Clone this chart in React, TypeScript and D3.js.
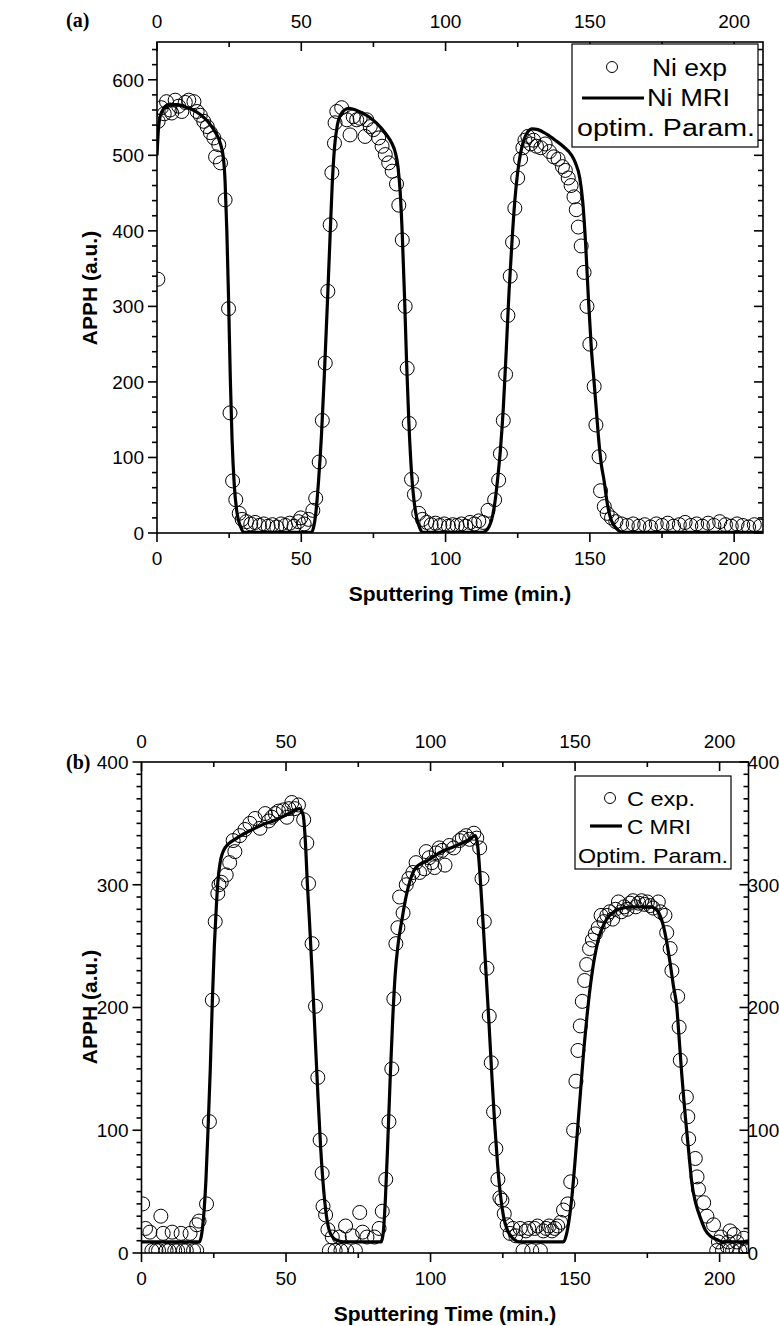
import React from "react";
import * as d3 from "d3";

// ---------- data ----------
const xMajorTicks = [0, 50, 100, 150, 200];
const xMinorTicks = [25, 75, 125, 175];
const niYMajor = [0, 100, 200, 300, 400, 500, 600];
const cYMajor = [0, 100, 200, 300, 400];

const niExp: [number, number][] = [
  [0.3, 336], [0.4, 545], [1.5, 563], [2.5, 555], [3.3, 571], [4.5, 560], [5.1, 556], [6.3, 573],
  [7.5, 565], [8.6, 558], [9.8, 570], [11, 573], [12.8, 571], [13.9, 558], [15, 553], [16.2, 545],
  [17.4, 538], [18.5, 530], [19.7, 523], [20.3, 498], [21.4, 514], [22, 490], [23.6, 441], [24.8, 297],
  [25.3, 159], [26.2, 69], [27.3, 44], [28.5, 26], [29.5, 18], [31, 15], [32.5, 12], [34, 14],
  [35.5, 10], [37, 12], [38.5, 9], [40, 11], [41.5, 8], [43, 12], [44.5, 10], [46, 13], [47.5, 9],
  [49, 15], [49.8, 20], [51, 12], [52.5, 18], [54, 30], [55, 46], [56.2, 94], [57.3, 149], [58.3, 225],
  [59.2, 320], [60, 408], [60.6, 477], [61.5, 516], [61.7, 543], [62.3, 558], [64, 563], [65.8, 547],
  [66.9, 527], [68, 551], [69.2, 547], [70.4, 549], [72.1, 525], [72.7, 547], [73.9, 538], [75, 534],
  [76.8, 523], [78, 512], [79.1, 501], [80.3, 490], [81.5, 479], [83, 462], [83.8, 434], [85, 388],
  [86, 300], [86.7, 218], [87.4, 145], [88.2, 71], [89.2, 51], [90.7, 26], [92, 18], [93.5, 14],
  [95, 11], [96.5, 13], [98, 10], [99.5, 12], [101, 9], [102.5, 11], [104, 10], [105.5, 12], [107, 9],
  [108.5, 14], [110, 12], [111.5, 16], [113, 14], [114.7, 30], [117, 44], [118.4, 70], [119, 105],
  [120, 149], [120.8, 210], [121.6, 288], [122.4, 340], [123.2, 385], [124, 430], [125, 470],
  [126, 495], [126.8, 510], [127.5, 520], [128.5, 525], [129.5, 515], [130.5, 520], [131.5, 512],
  [133, 510], [134.5, 515], [136, 505], [137.5, 498], [139, 495], [140.5, 485], [141.5, 480],
  [142.5, 470], [143.5, 460], [144.5, 445], [145.3, 428], [146, 405], [147, 380], [148, 345],
  [149, 300], [150, 250], [151.5, 194], [152.1, 143], [153.2, 101], [153.7, 56], [155, 35], [156, 26],
  [157.5, 20], [159, 15], [161, 12], [163, 10], [165, 12], [167, 9], [169, 11], [171, 8], [173, 12],
  [175, 10], [177, 13], [179, 9], [181, 11], [183, 14], [185, 10], [187, 12], [189, 9], [191, 13],
  [193, 10], [195, 15], [197, 11], [199, 9], [201, 12], [203, 10], [205, 8], [207, 11], [209, 9],
];

const niMri: [number, number][] = [
  [0, 500], [0.5, 535], [1, 550], [2, 560], [3, 565], [5, 567], [7, 567], [9, 565], [12, 561],
  [15, 554], [18, 543], [20, 532], [22, 515], [23, 497], [23.6, 465], [24.2, 400], [24.8, 310],
  [25.4, 205], [26, 125], [26.8, 62], [27.8, 25], [29, 8], [30, 1], [53.5, 1], [54.3, 8], [55, 25],
  [56, 70], [57, 130], [58, 210], [59, 300], [60, 395], [60.7, 460], [61.5, 510], [62.5, 540],
  [63.5, 553], [65, 560], [66.5, 562], [70, 558], [73, 552], [76, 543], [79, 530], [81.5, 515],
  [82.5, 505], [83.5, 485], [84.3, 450], [85, 395], [85.8, 310], [86.5, 225], [87.3, 145],
  [88.2, 80], [89, 45], [90, 20], [91, 7], [92, 1], [113, 1], [114, 3], [115, 8], [116, 18],
  [117, 38], [118, 70], [119, 110], [120, 165], [121, 240], [122, 320], [123, 385], [124, 440],
  [125, 478], [126, 503], [127, 519], [128.5, 531], [130, 535], [132, 534], [135, 528],
  [138, 520], [141, 511], [143.5, 501], [145, 490], [146.5, 470], [147.5, 440], [148.5, 385],
  [149.5, 310], [150.5, 245], [151.4, 203], [152.3, 160], [153.2, 118], [154, 90], [154.9, 70],
  [156, 40], [157, 22], [158, 12], [159.5, 5], [161, 1], [210, 1],
];

const cExp: [number, number][] = [
  [0.4, 40], [1.4, 20], [2.9, 17], [3.6, 2], [5, 2], [5.9, 2], [6.7, 30], [7.5, 16], [8.5, 2], [9.5, 2],
  [10.6, 17], [11.5, 2], [12.5, 2], [13.7, 16], [14.5, 2], [15.5, 2], [16.8, 16], [18, 2], [19.1, 2],
  [19.1, 23], [19.9, 26], [22.5, 40], [23.5, 107], [24.5, 206], [25.5, 270], [26.4, 293], [26.8, 300],
  [27.6, 302], [29.3, 308], [30.5, 318], [31.7, 336], [32.3, 327], [34, 340], [35.8, 345], [37.5, 350],
  [39.3, 354], [41, 346], [42.8, 358], [44, 352], [45.1, 355], [46.3, 358], [47.4, 360], [49.1, 361],
  [50.3, 355], [51, 362], [52, 367], [53, 362], [54.3, 365], [56.1, 353], [57.2, 334], [57.8, 301],
  [59, 252], [60.2, 201], [61, 143], [61.8, 92], [62.5, 65], [62.8, 38], [63.7, 31], [64.5, 19],
  [65, 2], [66, 13], [67, 2], [68.4, 13], [69, 2], [70.6, 22], [71, 2], [72.9, 14], [74, 2],
  [75.5, 33], [76.5, 17], [78, 13], [80.6, 13], [82.2, 20], [83.3, 34], [84.5, 60], [85.6, 107],
  [86.6, 150], [87.3, 207], [88, 252], [88.7, 265], [89.3, 290], [90.5, 277], [91.6, 300],
  [92.5, 305], [93.9, 310], [95, 318], [96.2, 310], [97.9, 313], [98.5, 327], [99.5, 322],
  [100.5, 318], [101.4, 314], [102, 326], [103, 330], [104, 328], [105, 316], [106.5, 332],
  [108, 330], [110, 336], [111, 338], [112.3, 340], [113.5, 337], [115, 342], [116, 338], [117, 330],
  [117.8, 305], [118.6, 270], [119.5, 232], [120.3, 193], [121, 155], [121.8, 115], [122.6, 85],
  [123.3, 60], [124, 45], [124.7, 43], [125.5, 32], [126.5, 23], [127.5, 16], [128.5, 20], [129.5, 14],
  [131, 20], [132, 2], [133, 18], [134, 20], [135, 2], [136, 20], [137, 22], [138, 2], [139, 18],
  [140, 20], [141, 22], [142, 18], [143, 20], [144, 22], [145, 25], [146, 35], [147.5, 40], [148.5, 58],
  [149.5, 100], [150.3, 140], [151, 165], [151.8, 185], [152.5, 205], [153.3, 222], [154, 235],
  [155, 248], [156, 255], [157, 260], [158, 265], [159, 275], [160, 270], [161, 275], [162, 278],
  [163, 272], [164, 280], [165, 286], [166, 278], [167, 282], [168, 280], [169, 285], [170, 287],
  [171, 282], [172, 285], [173, 287], [174, 284], [175, 286], [176, 283], [177, 281], [178.8, 286],
  [179.5, 278], [181.1, 275], [181.7, 261], [182.9, 248], [183.5, 230], [185.5, 209], [186, 184],
  [186.4, 157], [188.5, 127], [189, 111], [189.3, 93], [191.6, 77], [192.2, 62], [192.7, 52],
  [194.5, 41], [195.6, 30], [197.9, 23], [199.6, 9], [199, 2], [200.5, 13], [201, 2], [202.7, 5],
  [203, 9], [203.6, 18], [204.5, 2], [205, 15], [206, 9], [207, 2], [208.4, 12], [209, 2], [209.7, 5],
];

const cMri: [number, number][] = [
  [0, 9], [20, 9], [20.8, 15], [21.5, 30], [22.3, 60], [23, 100], [23.8, 150], [24.5, 205],
  [25.2, 250], [25.8, 278], [26.4, 302], [27.2, 318], [28.9, 330], [33, 338], [37.5, 344],
  [42, 349], [46.7, 353], [51, 358], [54.7, 362], [55.9, 357], [56.7, 335], [57.4, 300],
  [58.1, 271], [59, 230], [60, 180], [61, 130], [62, 85], [63, 52], [64, 30], [65, 18],
  [66.5, 12], [68, 10], [70, 9], [83, 9], [83.7, 18], [84.4, 45], [85.2, 90], [86, 140],
  [86.9, 190], [87.8, 228], [88.8, 252], [90, 270], [91.5, 290], [93, 304], [95, 314], [100, 321],
  [103, 326], [108, 331], [113.4, 337], [115.5, 340], [116.3, 332], [117.2, 305], [118.2, 268],
  [119.2, 228], [120.2, 188], [121.2, 145], [122.2, 105], [123.2, 72], [124.2, 47], [125.3, 29],
  [126.7, 18], [128.5, 12], [131, 9], [146, 9], [147, 15], [148, 28], [149, 48], [150, 75],
  [151, 105], [152, 135], [153, 165], [154, 190], [155, 212], [156, 230], [157, 244], [158, 255],
  [160, 268], [162, 275], [165, 280], [170, 282], [176, 282], [178, 280], [179, 277], [180, 271],
  [181.5, 256], [182.9, 236], [184, 218], [185.2, 200], [186, 175], [186.9, 146], [187.8, 120],
  [188.6, 100], [189.5, 78], [190.4, 57], [191.8, 40], [193.3, 29], [195, 19], [196.7, 14],
  [199, 11], [201, 9], [210, 9],
];

const niLegend = ["Ni exp", "Ni MRI", "optim. Param."];
const cLegend = ["C exp.", "C MRI", "Optim. Param."];

// ---------- drawing ----------
const SANS = "'Liberation Sans', Arial, sans-serif";
const SERIF = "'Liberation Serif', 'Times New Roman', serif";

type PanelProps = {
  id: string;
  left: number; right: number; top: number; bottom: number;
  yMax: number; yMajor: number[]; yMinorStep: number;
  exp: [number, number][]; mri: [number, number][];
  rightLabels: boolean;
  legend: string[];
  legendBox: { x: number; y: number; w: number; h: number };
  legendItems: { circle: [number, number]; lineX: [number, number]; lineY: number;
    t1: [number, number, number]; t2: [number, number, number]; t3: [number, number, number]; fs: number };
  letter: string; letterPos: [number, number];
  yTitleY: number;
};

function Panel(p: PanelProps) {
  const x = d3.scaleLinear().domain([0, 210]).range([p.left, p.right]);
  const y = d3.scaleLinear().domain([0, p.yMax]).range([p.bottom, p.top]);
  const line = d3.line<[number, number]>().x(d => x(d[0])).y(d => y(d[1])).curve(d3.curveMonotoneX);
  const yMinor = d3.range(0, p.yMax + 0.001, p.yMinorStep).filter(v => !p.yMajor.includes(v));
  const tickFs = 19;
  const M = 9, m = 5;
  const axisW = 1.6;
  return (
    <g>
      <defs>
        <clipPath id={p.id}>
          <rect x={p.left} y={p.top} width={p.right - p.left} height={p.bottom - p.top} />
        </clipPath>
      </defs>
      <g clipPath={`url(#${p.id})`}>
        {p.exp.map((d, i) => (
          <circle key={i} cx={x(d[0])} cy={y(d[1])} r={7} fill="none" stroke="#000" strokeWidth={1} />
        ))}
        <path d={line(p.mri) || ""} fill="none" stroke="#000" strokeWidth={3.2} strokeLinejoin="round" />
      </g>
      <rect x={p.left} y={p.top} width={p.right - p.left} height={p.bottom - p.top} fill="none" stroke="#000" strokeWidth={axisW} />
      {xMajorTicks.map(t => (
        <g key={"xM" + t}>
          <line x1={x(t)} x2={x(t)} y1={p.bottom} y2={p.bottom + M} stroke="#000" strokeWidth={axisW} />
          <line x1={x(t)} x2={x(t)} y1={p.top} y2={p.top + M} stroke="#000" strokeWidth={axisW} />
          <text x={x(t)} y={p.bottom + 32} textAnchor="middle" fontFamily={SANS} fontSize={tickFs}>{t}</text>
          <text x={x(t)} y={p.top - 14} textAnchor="middle" fontFamily={SANS} fontSize={tickFs}>{t}</text>
        </g>
      ))}
      {xMinorTicks.map(t => (
        <g key={"xm" + t}>
          <line x1={x(t)} x2={x(t)} y1={p.bottom} y2={p.bottom + m} stroke="#000" strokeWidth={axisW} />
          <line x1={x(t)} x2={x(t)} y1={p.top} y2={p.top + m} stroke="#000" strokeWidth={axisW} />
        </g>
      ))}
      {p.yMajor.map(v => (
        <g key={"yM" + v}>
          <line x1={p.left - M} x2={p.left} y1={y(v)} y2={y(v)} stroke="#000" strokeWidth={axisW} />
          <line x1={p.right - M} x2={p.right} y1={y(v)} y2={y(v)} stroke="#000" strokeWidth={axisW} />
          <text x={p.left - 13} y={y(v)} dy="0.36em" textAnchor="end" fontFamily={SANS} fontSize={tickFs}>{v}</text>
          {p.rightLabels && (
            <text x={p.right - 1} y={y(v)} dy="0.36em" textAnchor="start" fontFamily={SANS} fontSize={tickFs}>{v}</text>
          )}
        </g>
      ))}
      {yMinor.map(v => (
        <g key={"ym" + v}>
          <line x1={p.left - m} x2={p.left} y1={y(v)} y2={y(v)} stroke="#000" strokeWidth={axisW} />
          <line x1={p.right - m} x2={p.right} y1={y(v)} y2={y(v)} stroke="#000" strokeWidth={axisW} />
        </g>
      ))}
      <text x={(p.left + p.right) / 2} y={p.bottom + 68} textAnchor="middle" fontFamily={SANS} fontWeight="bold" fontSize={21}>
        Sputtering Time (min.)
      </text>
      <text transform={`translate(97,${p.yTitleY}) rotate(-90)`} textAnchor="middle" fontFamily={SANS} fontWeight="bold" fontSize={21}>
        APPH (a.u.)
      </text>
      <text x={p.letterPos[0]} y={p.letterPos[1]} fontFamily={SERIF} fontWeight="bold" fontSize={20}>{p.letter}</text>
      <rect x={p.legendBox.x} y={p.legendBox.y} width={p.legendBox.w} height={p.legendBox.h} fill="#fff" stroke="#000" strokeWidth={1.2} />
      <circle cx={p.legendItems.circle[0]} cy={p.legendItems.circle[1]} r={5.5} fill="none" stroke="#000" strokeWidth={1} />
      <line x1={p.legendItems.lineX[0]} x2={p.legendItems.lineX[1]} y1={p.legendItems.lineY} y2={p.legendItems.lineY} stroke="#000" strokeWidth={3.2} />
      {[p.legendItems.t1, p.legendItems.t2, p.legendItems.t3].map((t, i) => (
        <text key={i} x={t[0]} y={t[1]} textLength={t[2]} lengthAdjust="spacingAndGlyphs" fontFamily={SANS} fontSize={p.legendItems.fs}>
          {p.legend[i]}
        </text>
      ))}
    </g>
  );
}

export default function App() {
  return (
    <svg width={779} height={1326} style={{ position: "absolute", left: 0, top: 0, background: "#fff" }}>
      <rect x={0} y={0} width={779} height={1326} fill="#fff" />
      <Panel
        id="clipA" left={157} right={763} top={42} bottom={533}
        yMax={650} yMajor={niYMajor} yMinorStep={20}
        exp={niExp} mri={niMri}
        rightLabels={false}
        legend={niLegend}
        legendBox={{ x: 572, y: 44, w: 186, h: 103 }}
        legendItems={{ circle: [612, 67], lineX: [582, 644], lineY: 98,
          t1: [652, 75.5, 75], t2: [647, 106, 83], t3: [577, 136, 178], fs: 23 }}
        letter="(a)" letterPos={[66, 27]} yTitleY={288}
      />
      <Panel
        id="clipB" left={141.5} right={748.5} top={762} bottom={1253}
        yMax={400} yMajor={cYMajor} yMinorStep={10}
        exp={cExp} mri={cMri}
        rightLabels={true}
        legend={cLegend}
        legendBox={{ x: 575, y: 776, w: 156, h: 93 }}
        legendItems={{ circle: [610, 798], lineX: [590, 622], lineY: 826,
          t1: [627, 806, 68], t2: [627, 834, 64], t3: [578, 863, 150], fs: 21 }}
        letter="(b)" letterPos={[66, 769]} yTitleY={1007}
      />
    </svg>
  );
}
